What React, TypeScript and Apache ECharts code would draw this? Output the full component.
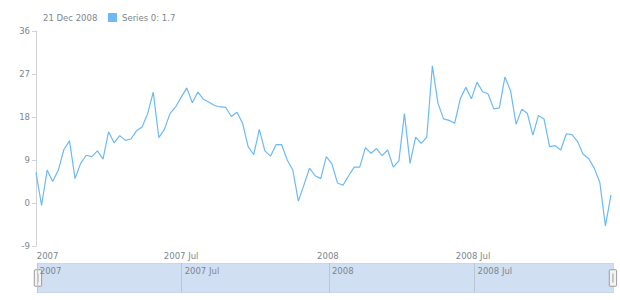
import React, { useEffect, useRef } from "react";
import * as echarts from "echarts";

// ---- data ----
const START_UTC = Date.UTC(2006, 11, 31); // first weekly observation
const WEEK_MS = 7 * 24 * 3600 * 1000;

const valuesA = [6.4, -0.5, 6.9, 4.5, 6.9, 11.2, 13.0, 5.1, 8.3, 10.0, 9.7, 10.9, 9.2, 14.9, 12.6, 14.1, 13.1, 13.4];
const valuesB = [15.1, 15.9, 18.7, 23.2, 13.7, 15.4, 18.7, 20.1, 22.1, 24.1, 21.0, 23.2, 21.7, 21.1, 20.4, 20.1, 20.0];
const valuesC = [18.1, 19.0, 16.7, 11.8, 10.1, 15.4, 10.9, 9.8, 12.2, 12.2, 9.0, 6.9, 0.4, 3.8, 7.3, 5.7, 5.1];
const valuesD = [9.7, 8.2, 4.2, 3.7, 5.7, 7.5, 7.5, 11.6, 10.4, 11.4, 9.9, 11.1, 7.5, 8.8, 18.7, 8.3, 13.8];
const valuesE = [12.5, 13.8, 28.7, 20.9, 17.6, 17.3, 16.7, 21.8, 24.2, 21.8, 25.3, 23.3, 22.8, 19.7, 19.9, 26.4, 23.5];
const valuesF = [16.5, 19.6, 18.8, 14.2, 18.3, 17.6, 11.8, 12.0, 11.1, 14.5, 14.3, 12.9, 10.2, 9.3, 7.3, 4.3, -4.8, 1.7];

const seriesValues = [...valuesA, ...valuesB, ...valuesC, ...valuesD, ...valuesE, ...valuesF];
const seriesName = "Series 0";
const dates = seriesValues.map((_, i) => START_UTC + i * WEEK_MS);

const tickDates = [Date.UTC(2007, 0, 1), Date.UTC(2007, 6, 1), Date.UTC(2008, 0, 1), Date.UTC(2008, 6, 1)];
const Y_MIN = -9;
const Y_MAX = 36;
const Y_STEP = 9;
const MONTHS = ["Jan", "Feb", "Mar", "Apr", "May", "Jun", "Jul", "Aug", "Sep", "Oct", "Nov", "Dec"];

// ---- styles ----
const FONT = "DejaVu Sans";
const TEXT_COLOR = "#7c868e";
const LINE_COLOR = "#6cb9f6";
const FS = 8.5;

function fmtTick(v: number) {
  const d = new Date(v);
  const m = d.getUTCMonth();
  return m === 0 ? `${d.getUTCFullYear()}` : `${d.getUTCFullYear()} ${MONTHS[m]}`;
}

function fmtDate(v: number) {
  const d = new Date(v);
  return `${d.getUTCDate()} ${MONTHS[d.getUTCMonth()]} ${d.getUTCFullYear()}`;
}

export default function App() {
  const ref = useRef<HTMLDivElement>(null);

  useEffect(() => {
    if (!ref.current) return;
    const chart = echarts.init(ref.current, undefined, { renderer: "svg" });
    const lastIdx = seriesValues.length - 1;
    const minX = dates[0];
    const maxX = dates[lastIdx];

    chart.setOption({
      animation: false,
      textStyle: { fontFamily: FONT },
      title: {
        text: fmtDate(dates[lastIdx]),
        left: 43,
        top: 13,
        padding: 0,
        textStyle: { fontSize: FS, fontWeight: "normal", color: TEXT_COLOR, fontFamily: FONT },
      },
      legend: {
        data: [seriesName],
        left: 108,
        top: 13,
        padding: 0,
        icon: "rect",
        itemWidth: 9,
        itemHeight: 9,
        formatter: (name: string) => `${name}: ${seriesValues[lastIdx]}`,
        textStyle: { fontSize: FS, color: TEXT_COLOR, fontFamily: FONT },
      },
      grid: [
        { left: 36, right: 9, top: 31, bottom: 54 },
        { left: 36, right: 7, top: 263, height: 30 },
      ],
      xAxis: [
        {
          type: "value",
          gridIndex: 0,
          min: minX,
          max: maxX,
          axisLine: { show: false },
          axisTick: { show: false, customValues: tickDates },
          splitLine: { show: false },
          axisLabel: {
            customValues: tickDates,
            formatter: fmtTick,
            color: TEXT_COLOR,
            fontSize: FS,
            fontFamily: FONT,
            margin: 5,
            hideOverlap: false,
            alignMinLabel: "left",
          },
        },
        {
          type: "value",
          gridIndex: 1,
          min: minX,
          max: maxX,
          position: "top",
          z: 10,
          axisLine: { show: false },
          axisTick: { show: false, customValues: tickDates },
          splitLine: { show: true, lineStyle: { color: "#b9c6d4", width: 1 } },
          axisLabel: {
            inside: true,
            customValues: tickDates,
            formatter: fmtTick,
            align: "left",
            margin: 3,
            padding: [0, 0, 0, 3],
            color: TEXT_COLOR,
            fontSize: FS,
            fontFamily: FONT,
            hideOverlap: false,
          },
        },
      ],
      yAxis: [
        {
          type: "value",
          gridIndex: 0,
          min: Y_MIN,
          max: Y_MAX,
          interval: Y_STEP,
          axisLine: { show: true, lineStyle: { color: "#cfd3d6" } },
          axisTick: { show: true, length: 4, lineStyle: { color: "#cfd3d6" } },
          splitLine: { show: false },
          axisLabel: { color: TEXT_COLOR, fontSize: FS, fontFamily: FONT, margin: 6 },
        },
        { type: "value", gridIndex: 1, show: false, min: 0, max: 1 },
      ],
      dataZoom: [
        {
          type: "slider",
          xAxisIndex: [0],
          start: 0,
          end: 100,
          left: 36,
          right: 7,
          top: 263,
          height: 30,
          z: 2,
          backgroundColor: "rgba(0,0,0,0)",
          borderColor: "#c9d7e8",
          fillerColor: "#d0e0f2",
          showDataShadow: false,
          showDetail: false,
          brushSelect: false,
          moveHandleSize: 0,
          handleIcon:
            "path://M1,0h6a1,1 0 0 1 1,1v16a1,1 0 0 1 -1,1h-6a1,1 0 0 1 -1,-1v-16a1,1 0 0 1 1,-1zM4,4v10",
          handleSize: "55%",
          handleStyle: { color: "#f4f4f4", borderColor: "#9a9a9a", borderWidth: 1 },
        },
      ],
      series: [
        {
          type: "line",
          name: seriesName,
          xAxisIndex: 0,
          yAxisIndex: 0,
          data: dates.map((d, i) => [d, seriesValues[i]]),
          symbol: "none",
          showSymbol: false,
          lineStyle: { width: 1.2, color: LINE_COLOR },
          itemStyle: { color: LINE_COLOR },
        },
      ],
    });

    return () => chart.dispose();
  }, []);

  return (
    <div
      ref={ref}
      style={{ position: "fixed", left: 0, top: 0, width: 620, height: 300, background: "#fff" }}
    />
  );
}
